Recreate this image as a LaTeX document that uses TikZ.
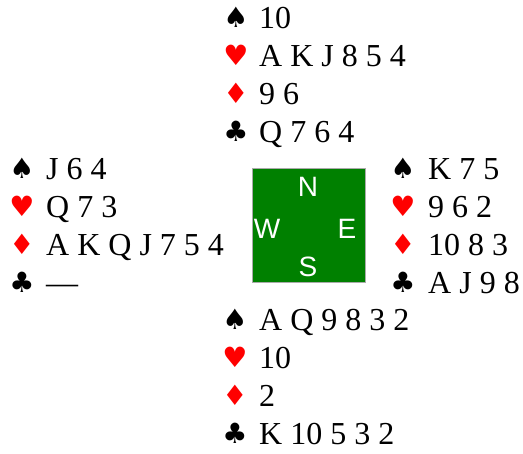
\documentclass[tikz,border=0pt]{standalone}
\usepackage{fontspec}
\setmainfont{Liberation Serif}
\newfontfamily\suitfont{DejaVu Sans}
\newfontfamily\dirfont{Liberation Sans}
\definecolor{boardgreen}{RGB}{0,128,0}
\definecolor{boardedge}{RGB}{170,170,170}
\definecolor{suitred}{RGB}{255,0,0}
\begin{document}
\begin{tikzpicture}[x=1pt,y=-1pt,
  card/.style={anchor=base west, inner sep=0pt, font=\fontsize{32}{38}\selectfont},
  suitsym/.style={anchor=base, inner sep=0pt, font=\suitfont\fontsize{28}{32}\selectfont},
  redsuit/.style={suitsym, text=suitred},
  dirlabel/.style={text=white, inner sep=0pt, font=\dirfont\fontsize{28}{30}\selectfont},
  board/.style={draw=boardedge, fill=boardgreen, line width=1pt}]
\useasboundingbox (0,0) rectangle (523,454);
% board
\node[board, minimum width=113pt, minimum height=114pt, inner sep=0pt] (board) at (308.5,226) {};
\node[dirlabel] (dN) at (308,187) {N};
\node[dirlabel] (dW) at (267,229) {W};
\node[dirlabel] (dE) at (347,229) {E};
\node[dirlabel] (dS) at (308,267) {S};
% North
\node[suitsym] (ns) at (236,28) {♠};
\node[redsuit] (nh) at (236,66) {♥};
\node[redsuit] (nd) at (236,104) {♦};
\node[suitsym] (nc) at (236,142) {♣};
\node[card] (nsc) at (259,29) {10};
\node[card] (nhc) at (259,67) {A K J 8 5 4};
\node[card] (ndc) at (259,105) {9 6};
\node[card] (ncc) at (259,143) {Q 7 6 4};
% West
\node[suitsym] (ws) at (22,179) {♠};
\node[redsuit] (wh) at (22,217) {♥};
\node[redsuit] (wd) at (22,255) {♦};
\node[suitsym] (wc) at (22,293) {♣};
\node[card] (wsc) at (46,180) {J 6 4};
\node[card] (whc) at (46,218) {Q 7 3};
\node[card] (wdc) at (46,256) {A K Q J 7 5 4};
\node[card] (wcc) at (46,294) {—};
% East
\node[suitsym] (es) at (403,179) {♠};
\node[redsuit] (eh) at (403,217) {♥};
\node[redsuit] (ed) at (403,255) {♦};
\node[suitsym] (ec) at (403,293) {♣};
\node[card] (esc) at (428,180) {K 7 5};
\node[card] (ehc) at (428,218) {9 6 2};
\node[card] (edc) at (428,256) {10 8 3};
\node[card] (ecc) at (428,294) {A J 9 8};
% South
\node[suitsym] (ss) at (235,330) {♠};
\node[redsuit] (sh) at (235,368) {♥};
\node[redsuit] (sd) at (235,406) {♦};
\node[suitsym] (sc) at (235,444) {♣};
\node[card] (ssc) at (259,331) {A Q 9 8 3 2};
\node[card] (shc) at (259,369) {10};
\node[card] (sdc) at (259,407) {2};
\node[card] (scc) at (259,445) {K 10 5 3 2};
\end{tikzpicture}
\end{document}
